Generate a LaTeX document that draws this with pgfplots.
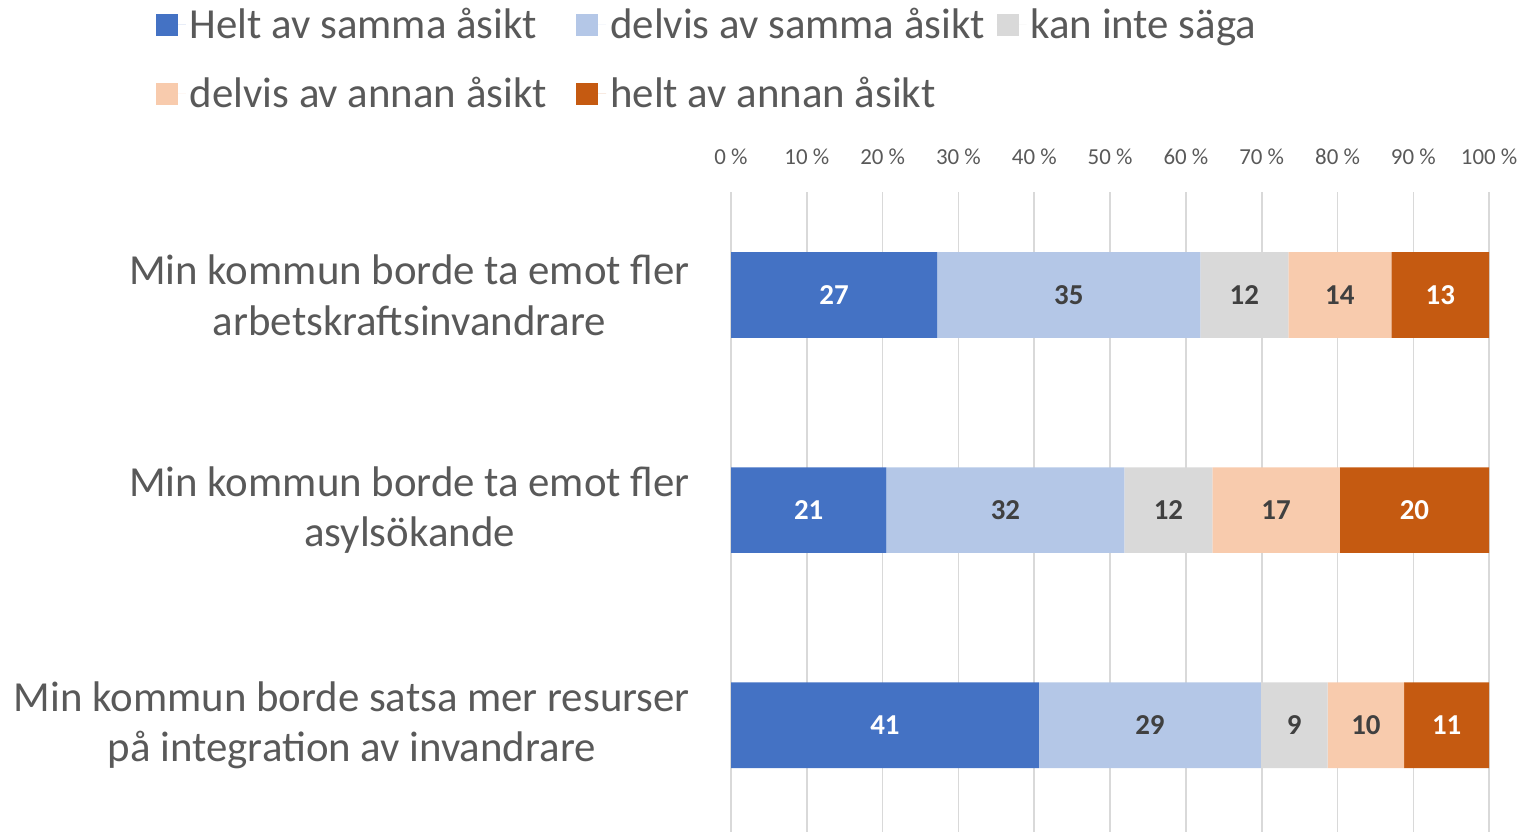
\documentclass[border={7pt 0pt 0pt 0pt}]{standalone}
\usepackage{pgfplots}
\pgfplotsset{compat=1.18}
\usepackage{fontspec}
\setmainfont{Carlito}
\definecolor{cA}{HTML}{4472C4}
\definecolor{cB}{HTML}{B4C7E7}
\definecolor{cC}{HTML}{D9D9D9}
\definecolor{cD}{HTML}{F8CBAD}
\definecolor{cE}{HTML}{C55A11}
\definecolor{tc}{HTML}{595959}
\definecolor{lc}{HTML}{404040}
\definecolor{gc}{HTML}{D9D9D9}
\newcommand{\lgbox}[1]{\makebox[192pt][l]{#1}}
\begin{document}
\begin{tikzpicture}
\begin{axis}[
  xbar stacked, bar width=43pt,
  x=3.805pt, y=108pt,
  xmin=0, xmax=100, ymin=-0.495, ymax=2.48,
  axis line style={draw=none},
  major tick style={draw=none},
  xtick={0,10,...,100},
  xticklabels={0 \%,10 \%,20 \%,30 \%,40 \%,50 \%,60 \%,70 \%,80 \%,90 \%,100 \%},
  xticklabel pos=upper,
  xticklabel style={font=\fontsize{11.5}{13}\selectfont, text=tc, yshift=10pt},
  xmajorgrids, major grid style={draw=gc, line width=0.8pt},
  ytick={0,1,2},
  yticklabels={{Min kommun borde satsa mer resurser\\på integration av invandrare},
               {Min kommun borde ta emot fler\\asylsökande},
               {Min kommun borde ta emot fler\\arbetskraftsinvandrare}},
  yticklabel style={align=center, font=\fontsize{21.5}{25.5}\selectfont, text=tc, inner sep=0pt, xshift=-20.5pt},
  point meta=explicit symbolic,
  nodes near coords,
  every node near coord/.append style={anchor=center, font=\fontsize{14.5}{16}\selectfont\bfseries, text=lc},
  legend columns=3,
  legend style={at={(rel axis cs:-0.767,1.30)}, anchor=north west, draw=none, fill=none,
    font=\fontsize{21.5}{24}\selectfont, text=tc, row sep=14pt,
    nodes={anchor=west}},
  legend cell align=left,
]
\addplot[fill=cA, draw=none, every node near coord/.append style={text=white},
  legend image code/.code={\fill[cA] (0pt,-5.5pt) rectangle (11pt,5.5pt); \path (0pt,0pt) -- (15pt,0pt);}]
  coordinates {(40.6,0) [41] (20.5,1) [21] (27.2,2) [27]};
\addlegendentry{\lgbox{Helt av samma åsikt}}
\addplot[fill=cB, draw=none,
  legend image code/.code={\fill[cB] (0pt,-5.5pt) rectangle (11pt,5.5pt); \path (0pt,0pt) -- (15pt,0pt);}]
  coordinates {(29.3,0) [29] (31.4,1) [32] (34.7,2) [35]};
\addlegendentry{\lgbox{delvis av samma åsikt}}
\addplot[fill=cC, draw=none,
  legend image code/.code={\fill[cC] (0pt,-5.5pt) rectangle (11pt,5.5pt); \path (0pt,0pt) -- (15pt,0pt);}]
  coordinates {(8.8,0) [9] (11.6,1) [12] (11.6,2) [12]};
\addlegendentry{kan inte säga}
\addplot[fill=cD, draw=none,
  legend image code/.code={\fill[cD] (0pt,-5.5pt) rectangle (11pt,5.5pt); \path (0pt,0pt) -- (15pt,0pt);}]
  coordinates {(10.1,0) [10] (16.8,1) [17] (13.6,2) [14]};
\addlegendentry{\lgbox{delvis av annan åsikt}}
\addplot[fill=cE, draw=none, every node near coord/.append style={text=white},
  legend image code/.code={\fill[cE] (0pt,-5.5pt) rectangle (11pt,5.5pt); \path (0pt,0pt) -- (15pt,0pt);}]
  coordinates {(11.2,0) [11] (19.7,1) [20] (12.9,2) [13]};
\addlegendentry{\lgbox{helt av annan åsikt}}
\end{axis}
\end{tikzpicture}
\end{document}
